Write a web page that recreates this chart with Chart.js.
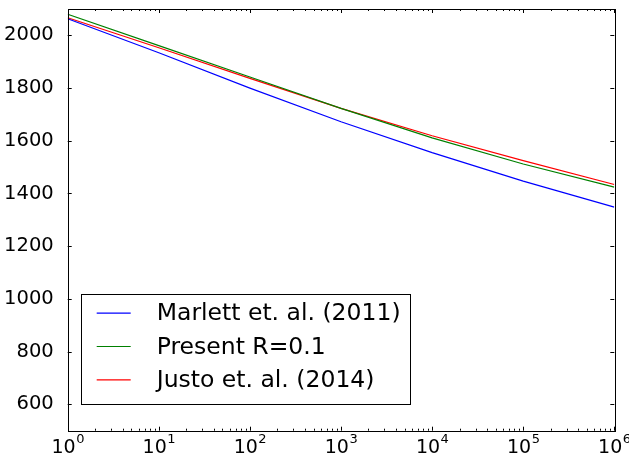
<!DOCTYPE html>
<html>
<head>
<meta charset="utf-8">
<script src="https://cdn.jsdelivr.net/npm/chart.js@4.4.1/dist/chart.umd.min.js"></script>
<style>
    html, body { margin: 0; padding: 0; background: #fff; }
    #wrap { width: 629px; height: 455px; }
</style>
</head>
<body>
<div id="wrap"><canvas id="myChart"></canvas></div>
<script>
// values (x is log scale)
const xValues = [1, 10, 100, 1000, 10000, 100000, 1000000];
const marlett = [2063, 1934, 1800, 1672, 1555, 1447, 1348];
const present = [2080, 1961, 1842, 1723, 1611, 1512, 1424];
const justo = [2067, 1953, 1837, 1723, 1619, 1525, 1434];

const seriesNames = ["Marlett et. al. (2011)", "Present R=0.1", "Justo et. al. (2014)"];
const lineColors = ["#0000ff", "#008000", "#ff0000"];

const xTicks = [1, 10, 100, 1000, 10000, 100000, 1000000];
const xTickExponents = ["0", "1", "2", "3", "4", "5", "6"];
const yTicks = [600, 800, 1000, 1200, 1400, 1600, 1800, 2000];

Chart.defaults.font.family = "'DejaVu Sans', sans-serif";
Chart.defaults.color = "#000";

function toPoints(ys) {
    return xValues.map((x, i) => ({x: x, y: ys[i]}));
}

// box round the plot, inward ticks on all four sides, and 10^n labels
const frameTicks = {
    id: "frameTicks",
    afterDatasetsDraw(chart) {
        const ctx = chart.ctx;
        const a = chart.chartArea;
        const xs = chart.scales.x;
        const ys = chart.scales.y;
        const snap = v => Math.round(v) + 0.5;
        ctx.save();
        ctx.strokeStyle = "#000";
        ctx.lineWidth = 1;
        ctx.beginPath();
        const xTick = (v, len) => {
            const px = snap(xs.getPixelForValue(v));
            ctx.moveTo(px, a.bottom); ctx.lineTo(px, a.bottom - len);
            ctx.moveTo(px, a.top); ctx.lineTo(px, a.top + len);
        };
        xTicks.forEach((v, i) => {
            xTick(v, 4);
            if (i < xTicks.length - 1) {
                for (let m = 2; m <= 9; m++) xTick(v * m, 2);
            }
        });
        yTicks.forEach(v => {
            const py = snap(ys.getPixelForValue(v));
            ctx.moveTo(a.left, py); ctx.lineTo(a.left + 4, py);
            ctx.moveTo(a.right, py); ctx.lineTo(a.right - 4, py);
        });
        ctx.stroke();
        ctx.strokeRect(snap(a.left), snap(a.top), Math.round(a.right - a.left), Math.round(a.bottom - a.top));

        // x labels: "10" with a raised exponent
        ctx.fillStyle = "#000";
        ctx.textBaseline = "alphabetic";
        ctx.textAlign = "left";
        xTicks.forEach((v, i) => {
            const px = xs.getPixelForValue(v);
            ctx.font = "19px 'DejaVu Sans'";
            const baseW = ctx.measureText("10").width;
            ctx.font = "13px 'DejaVu Sans'";
            const supW = ctx.measureText(xTickExponents[i]).width;
            const x0 = px - (baseW + supW) / 2;
            ctx.font = "19px 'DejaVu Sans'";
            ctx.fillText("10", x0, a.bottom + 22.5);
            ctx.font = "13px 'DejaVu Sans'";
            ctx.fillText(xTickExponents[i], x0 + baseW + 0.5, a.bottom + 12.5);
        });
        ctx.restore();
    }
};

// legend box in the lower left corner of the plot
const boxLegend = {
    id: "boxLegend",
    afterDraw(chart) {
        const ctx = chart.ctx;
        const a = chart.chartArea;
        const left = a.left + 13;
        const top = a.bottom - 137;
        const w = 329;
        const h = 110;
        ctx.save();
        ctx.fillStyle = "#fff";
        ctx.fillRect(left, top, w, h);
        ctx.strokeStyle = "#000";
        ctx.lineWidth = 1;
        ctx.strokeRect(Math.round(left) + 0.5, Math.round(top) + 0.5, w, h);
        ctx.font = "23.5px 'DejaVu Sans'";
        ctx.textBaseline = "middle";
        chart.data.datasets.forEach((ds, i) => {
            const cy = top + 19.5 + i * 33.3;
            ctx.strokeStyle = ds.borderColor;
            ctx.lineWidth = 1.2;
            ctx.beginPath();
            ctx.moveTo(left + 16, cy);
            ctx.lineTo(left + 50, cy);
            ctx.stroke();
            ctx.fillStyle = "#000";
            ctx.fillText(ds.label, left + 76, cy + 1);
        });
        ctx.restore();
    }
};

new Chart("myChart", {
    type: "line",
    data: {
        datasets: [marlett, present, justo].map((ys, i) => ({
            label: seriesNames[i],
            data: toPoints(ys),
            borderColor: lineColors[i],
            backgroundColor: lineColors[i],
            borderWidth: 1.2,
            pointRadius: 0,
            tension: 0
        }))
    },
    options: {
        responsive: true,
        maintainAspectRatio: false,
        animation: false,
        layout: {padding: {top: 9, right: 14.7, left: 0, bottom: 0}},
        plugins: {
            legend: {display: false},
            tooltip: {enabled: false}
        },
        scales: {
            x: {
                type: "logarithmic",
                min: 1,
                max: 1000000,
                grid: {display: false},
                border: {display: false},
                afterBuildTicks: scale => {
                    scale.ticks = xTicks.map(v => ({value: v}));
                },
                afterFit: scale => {
                    scale.height = 24.3;
                    scale.paddingLeft = 0;
                    scale.paddingRight = 0;
                },
                ticks: {display: false}
            },
            y: {
                min: 500,
                max: 2100,
                grid: {display: false},
                border: {display: false},
                afterBuildTicks: scale => {
                    scale.ticks = yTicks.map(v => ({value: v}));
                },
                afterFit: scale => {
                    scale.width = 67.7;
                    scale.paddingTop = 0;
                    scale.paddingBottom = 0;
                },
                ticks: {
                    padding: 6,
                    font: {size: 19.5},
                    callback: value => String(value)
                }
            }
        }
    },
    plugins: [frameTicks, boxLegend]
});
</script>
</body>
</html>
